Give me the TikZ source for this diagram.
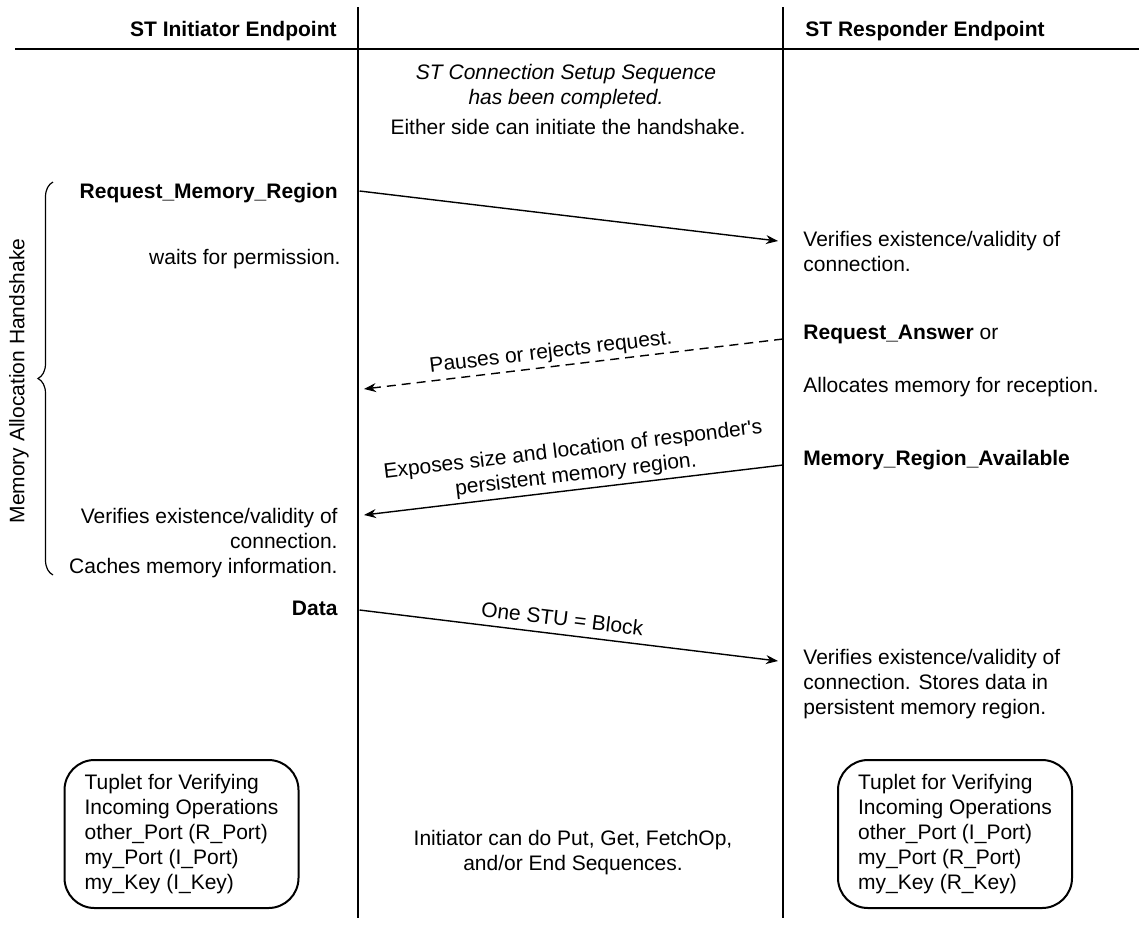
\documentclass[tikz,border=0pt]{standalone}
\usepackage{fontspec}
\setmainfont{Liberation Sans}
\usetikzlibrary{arrows.meta,decorations.pathreplacing}

\begin{document}
\begin{tikzpicture}[x=0.5pt,y=-0.5pt,
    every node/.style={font=\fontsize{10.5}{12.5}\selectfont, inner sep=0pt},
    lifeline/.style={line width=1.4pt},
    msg/.style={line width=0.7pt, -{Stealth[length=6pt,width=4.5pt]}},
    reply/.style={msg, dash pattern=on 4.5pt off 3pt},
    tuplet/.style={draw, line width=1pt, rounded corners=15pt, minimum width=117pt, minimum height=74pt, align=left}]
    \useasboundingbox (0,0) rectangle (1139,927);

    % Linee di vita e intestazione
    \coordinate (iTop) at (358,7);
    \coordinate (iBot) at (358,918);
    \coordinate (rTop) at (783,7);
    \coordinate (rBot) at (783,918);
    \coordinate (hL) at (15,49);
    \coordinate (hR) at (1139,49);

    \draw[lifeline] (iTop) -- (iBot);
    \draw[lifeline] (rTop) -- (rBot);
    \draw[line width=1.2pt] (hL) -- (hR);

    \node[anchor=east] (iTitle) at (337,31) {\textbf{ST Initiator Endpoint}};
    \node[anchor=west] (rTitle) at (805,31) {\textbf{ST Responder Endpoint}};

    \node[align=center] (setup) at (566,87) {\itshape ST Connection Setup Sequence\\\itshape has been completed.};
    \node (either) at (568,127) {Either side can initiate the handshake.};

    % Handshake di allocazione
    \node[anchor=east] (reqMem) at (338,193) {\textbf{Request\_Memory\_Region}};
    \node[anchor=east] (waits) at (341,259) {waits for permission.};
    \node[anchor=west, align=left] (rVerify) at (803,251) {Verifies existence/validity of\\connection.};
    \node[anchor=west] (reqAns) at (803,334) {\textbf{Request\_Answer} or};
    \node[anchor=west] (alloc) at (803,387) {Allocates memory for reception.};
    \node[anchor=west] (memAvail) at (803,460) {\textbf{Memory\_Region\_Available}};
    \node[anchor=east, align=right] (iVerify) at (338,543) {Verifies existence/validity of\\connection.\\Caches memory information.};

    \coordinate (m1a) at (359.5,191);
    \coordinate (m1b) at (778,241);
    \coordinate (m2a) at (783,339);
    \coordinate (m2b) at (364,389);
    \coordinate (m3a) at (783,465);
    \coordinate (m3b) at (364,515);

    \draw[msg] (m1a) -- (m1b);
    \draw[reply] (m2a) -- (m2b);
    \path (m2b) -- (m2a) node[pos=0.45, sloped, above=4.25pt, anchor=base] (pauseLbl) {Pauses or rejects request.};
    \draw[msg] (m3a) -- (m3b);
    \path (m3b) -- (m3a) node[pos=0.51, sloped, above=2pt, align=center] (exposeLbl) {Exposes size and location of responder\textquotesingle s\\persistent memory region.};

    \coordinate (bTop) at (53,182);
    \coordinate (bBot) at (53,575);
    \draw[line width=0.6pt, decorate, decoration={brace, amplitude=7.5pt}] (bBot) -- (bTop);
    \node[rotate=90] (handshake) at (19,381) {Memory Allocation Handshake};

    % Trasferimento dati
    \node[anchor=east] (data) at (338,608) {\textbf{Data}};
    \coordinate (m4a) at (359.5,610);
    \coordinate (m4b) at (778,661);
    \draw[msg] (m4a) -- (m4b) node[pos=0.48, sloped, above=4.25pt, anchor=base] (stuLbl) {One STU = Block};
    \node[anchor=west, align=left] (rStore) at (803,684) {Verifies existence/validity of\\connection. Stores data in\\persistent memory region.};

    % Tuplet e operazioni successive
    \node[tuplet] (iTuplet) at (181.5,834) {Tuplet for Verifying\\Incoming Operations\\other\_Port (R\_Port)\\my\_Port (I\_Port)\\my\_Key (I\_Key)};
    \node[tuplet] (rTuplet) at (955,834) {Tuplet for Verifying\\Incoming Operations\\other\_Port (I\_Port)\\my\_Port (R\_Port)\\my\_Key (R\_Key)};
    \node[align=center] (nextOps) at (573,853) {Initiator can do Put, Get, FetchOp,\\and/or End Sequences.};
\end{tikzpicture}
\end{document}
